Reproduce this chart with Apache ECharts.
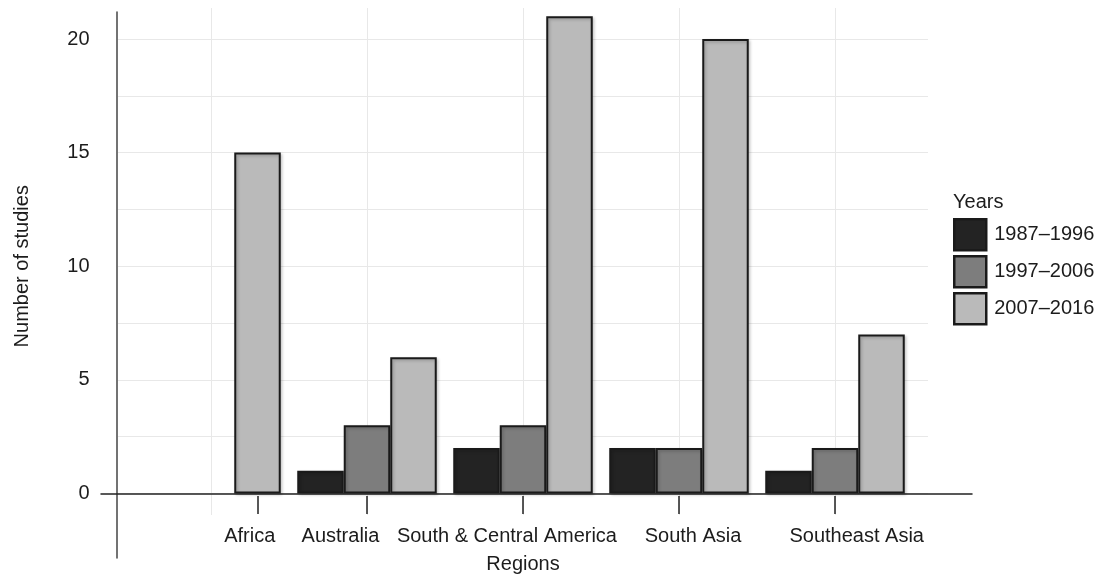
<!DOCTYPE html>
<html><head><meta charset="utf-8">
<script src="https://cdn.jsdelivr.net/npm/echarts@6/dist/echarts.min.js"></script>
<style>html,body{margin:0;padding:0;background:#fff}#c{width:1102px;height:579px}</style>
</head><body><div id="c"></div>
<script>
// ---- data ----
const categories = ['Africa', 'Australia', 'South & Central America', 'South Asia', 'Southeast Asia'];
const seriesNames = ['1987–1996', '1997–2006', '2007–2016'];
const s1987 = [0, 1, 2, 2, 1];
const s1997 = [0, 3, 3, 2, 2];
const s2007 = [15, 6, 21, 20, 7];
const yTickLabels = [0, 5, 10, 15, 20];

// ---- layout (axis units of the tick grid, category centre = integer) ----
const tickPos = [0.3, 1, 2, 3, 4];
const labelPos = [0.248, 0.83, 1.897, 3.09, 4.139];

const font = "'Liberation Sans', Arial, Helvetica, sans-serif";
const txt = '#1c1c1c';
const edge = '#1a1a1a';
const fills = ['#232323', '#7d7d7d', '#bababa'];
const values = [s1987, s1997, s2007];

const chart = echarts.init(document.getElementById('c'), null, {renderer: 'canvas'});
chart.setOption({
  animation: false,
  backgroundColor: '#ffffff',
  textStyle: {fontFamily: font},
  title: {
    text: 'Years', left: 953, top: 192, padding: 0,
    textStyle: {fontSize: 20, fontWeight: 'normal', color: txt, fontFamily: font}
  },
  legend: {
    orient: 'vertical', left: 953, top: 218, padding: 0,
    itemWidth: 32, itemHeight: 31, itemGap: 3.5,
    icon: 'rect',
    data: seriesNames,
    itemStyle: {borderColor: edge, borderWidth: 2.5},
    textStyle: {fontSize: 20, color: txt, fontFamily: font, padding: [0, 0, 0, 3]}
  },
  grid: [
    {left: 133, right: 189, top: 8, bottom: 64},     // 0 bars
    {left: 211, right: 267, top: 8, bottom: 64},     // 1 vertical grid lines
    {left: 118, right: 174, top: 39, bottom: 85.5},  // 2 horizontal grid lines + y labels
    {left: 117, right: 174, top: 12, bottom: 21},    // 3 y axis line
    {left: 101, right: 130, top: 39, bottom: 85.5},  // 4 zero line
    {left: 55, right: 111, top: 8, bottom: 64}       // 5 x ticks + labels
  ],
  xAxis: [
    {gridIndex: 0, type: 'category', data: categories, show: false},
    {gridIndex: 1, type: 'value', min: 0, max: 4, interval: 1,
      axisLine: {show: false}, axisTick: {show: false}, axisLabel: {show: false},
      splitLine: {show: true, lineStyle: {color: '#e8e8e8', width: 1}}},
    {gridIndex: 2, type: 'value', show: false},
    {gridIndex: 3, type: 'value', show: false},
    {gridIndex: 4, type: 'value', min: 0, max: 1,
      axisLine: {show: true, onZero: false, lineStyle: {color: '#222', width: 1.5}},
      axisTick: {show: false}, axisLabel: {show: false}, splitLine: {show: false}},
    {gridIndex: 5, type: 'value', min: -1, max: 5,
      axisLine: {show: false},
      axisTick: {show: true, inside: true, length: 18, customValues: tickPos,
        lineStyle: {color: '#222', width: 1.5}},
      axisLabel: {show: true, customValues: labelPos, margin: 12, fontSize: 20, color: txt, fontFamily: font,
        formatter: function (v) {
          for (let i = 0; i < labelPos.length; i++) if (Math.abs(labelPos[i] - v) < 1e-6) return categories[i];
          return '';
        }},
      splitLine: {show: false},
      name: 'Regions', nameLocation: 'middle', nameGap: 40,
      nameTextStyle: {fontSize: 20, color: txt, fontFamily: font}}
  ],
  yAxis: [
    {gridIndex: 0, type: 'value', min: -0.946, max: 21.364, show: false},
    {gridIndex: 1, type: 'value', min: 0, max: 1, show: false},
    {gridIndex: 2, type: 'value', min: 0, max: 20, interval: 2.5,
      axisLine: {show: false}, axisTick: {show: false},
      splitLine: {show: true, lineStyle: {color: '#e8e8e8', width: 1}},
      axisLabel: {margin: 28.5, fontSize: 20, color: txt, fontFamily: font,
        formatter: function (v) { return yTickLabels.indexOf(v) >= 0 ? String(v) : ''; }},
      name: 'Number of studies', nameLocation: 'middle', nameGap: 86, nameRotate: 90,
      nameTextStyle: {fontSize: 20, color: txt, fontFamily: font}},
    {gridIndex: 3, type: 'value', min: 0, max: 1,
      axisLine: {show: true, onZero: false, lineStyle: {color: '#444', width: 1.5}},
      axisTick: {show: false}, axisLabel: {show: false}, splitLine: {show: false}},
    {gridIndex: 4, type: 'value', min: 0, max: 1, show: false},
    {gridIndex: 5, type: 'value', min: 0, max: 1, show: false}
  ],
  series: seriesNames.map(function (name, i) {
    return {
      name: name, type: 'bar', xAxisIndex: 0, yAxisIndex: 0,
      // zero counts are not drawn as bars (no outline at the baseline)
      data: values[i].map(function (v) { return v === 0 ? '-' : v; }),
      barWidth: 46.5, barGap: '0%',
      itemStyle: {color: fills[i], borderColor: edge, borderWidth: 2,
        shadowColor: 'rgba(0,0,0,0.22)', shadowBlur: 3, shadowOffsetX: 1.5, shadowOffsetY: 1.5}
    };
  })
});
</script></body></html>
